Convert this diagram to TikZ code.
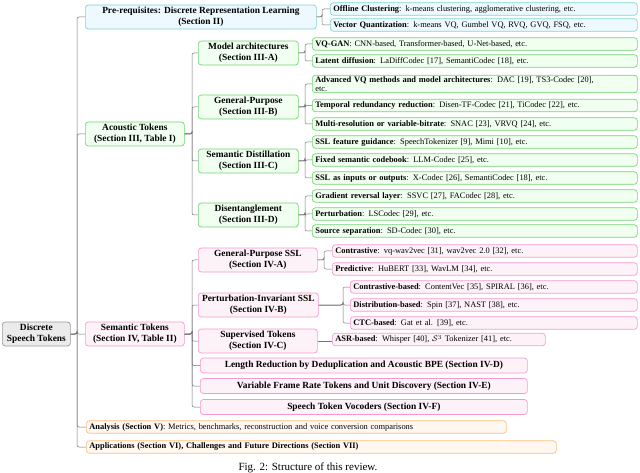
\documentclass[tikz,border=0pt]{standalone}
\usepackage{fontspec}
\setmainfont{Liberation Serif}
\begin{document}
\begin{tikzpicture}[x=1pt,y=-1pt,
  base/.style={draw, rounded corners=3pt, line width=0.7pt, inner sep=1pt, font=\fontsize{8.4}{9.6}\selectfont},
  mid/.style={base, anchor=west, align=center, font=\fontsize{9.4}{10.6}\selectfont\bfseries},
  leaf/.style={base, anchor=west, align=left, inner xsep=3pt, minimum height=12.5pt},
  cy/.style={draw=cyan!60!green!50, fill=cyan!7},
  gr/.style={draw=green!70!black!55, fill=green!6},
  pk/.style={draw=magenta!40, fill=magenta!5},
  og/.style={draw=orange!50, fill=orange!6},
  gy/.style={draw=black!40, fill=black!8},
  conn/.style={draw=black!55, line width=0.5pt, rounded corners=2pt}]
\useasboundingbox (0,0) rectangle (640,473);
% root
\node[mid,gy,minimum width=68pt,minimum height=24pt] (root) at (2,334) {Discrete\\Speech Tokens};
% level 1
\node[mid,cy,minimum width=231pt,minimum height=24pt] (pre) at (85,17) {Pre-requisites: Discrete Representation Learning\\(Section II)};
\node[mid,gr,minimum width=99pt,minimum height=24pt] (ac) at (85,134) {Acoustic Tokens\\(Section III, Table I)};
\node[mid,pk,minimum width=99pt,minimum height=24pt] (se) at (85,334) {Semantic Tokens\\(Section IV, Table II)};
\node[leaf,og,text width=414pt] (an) at (86,427) {\textbf{Analysis (Section V)}: Metrics, benchmarks, reconstruction and voice conversion comparisons};
\node[leaf,og,text width=464pt] (ap) at (86,447) {\textbf{Applications (Section VI), Challenges and Future Directions (Section VII)}};
% prereq leaves
\node[leaf,cy,text width=301pt] (off) at (330,9) {\textbf{Offline Clustering}: k-means clustering, agglomerative clustering, etc.};
\node[leaf,cy,text width=301pt] (vq) at (330,25) {\textbf{Vector Quantization}: k-means VQ, Gumbel VQ, RVQ, GVQ, FSQ, etc.};
% acoustic level 2
\node[mid,gr,minimum width=100pt,minimum height=24pt] (ma) at (198,53) {Model architectures\\(Section III-A)};
\node[mid,gr,minimum width=100pt,minimum height=24pt] (gp) at (198,107) {General-Purpose\\(Section III-B)};
\node[mid,gr,minimum width=100pt,minimum height=24pt] (sd) at (198,161) {Semantic Distillation\\(Section III-C)};
\node[mid,gr,minimum width=100pt,minimum height=24pt] (di) at (198,215) {Disentanglement\\(Section III-D)};
% acoustic leaves
\node[leaf,gr,text width=319pt] (l1) at (312,44) {\textbf{VQ-GAN}: CNN-based, Transformer-based, U-Net-based, etc.};
\node[leaf,gr,text width=319pt] (l2) at (312,61) {\textbf{Latent diffusion}: LaDiffCodec [17], SemantiCodec [18], etc.};
\node[leaf,gr,text width=319pt] (l3) at (312,84) {\textbf{Advanced VQ methods and model architectures}: DAC [19], TS3-Codec [20],\\etc.};
\node[leaf,gr,text width=319pt] (l4) at (312,105.5) {\textbf{Temporal redundancy reduction}: Disen-TF-Codec [21], TiCodec [22], etc.};
\node[leaf,gr,text width=319pt] (l5) at (312,124) {\textbf{Multi-resolution or variable-bitrate}: SNAC [23], VRVQ [24], etc.};
\node[leaf,gr,text width=319pt] (l6) at (312,142) {\textbf{SSL feature guidance}: SpeechTokenizer [9], Mimi [10], etc.};
\node[leaf,gr,text width=319pt] (l7) at (312,160) {\textbf{Fixed semantic codebook}: LLM-Codec [25], etc.};
\node[leaf,gr,text width=319pt] (l8) at (312,178) {\textbf{SSL as inputs or outputs}: X-Codec [26], SemantiCodec [18], etc.};
\node[leaf,gr,text width=319pt] (l9) at (312,196) {\textbf{Gradient reversal layer}: SSVC [27], FACodec [28], etc.};
\node[leaf,gr,text width=319pt] (l10) at (312,214) {\textbf{Perturbation}: LSCodec [29], etc.};
\node[leaf,gr,text width=319pt] (l11) at (312,231) {\textbf{Source separation}: SD-Codec [30], etc.};
% semantic level 2
\node[mid,pk,minimum width=119pt,minimum height=24pt] (s1) at (198,260) {General-Purpose SSL\\(Section IV-A)};
\node[mid,pk,minimum width=120pt,minimum height=24pt] (s2) at (198,305) {Perturbation-Invariant SSL\\(Section IV-B)};
\node[mid,pk,minimum width=119pt,minimum height=24pt] (s3) at (198,341) {Supervised Tokens\\(Section IV-C)};
\node[mid,pk,minimum width=327pt,minimum height=15pt] (s4) at (200,365.5) {Length Reduction by Deduplication and Acoustic BPE (Section IV-D)};
\node[mid,pk,minimum width=327pt,minimum height=15pt] (s5) at (200,386) {Variable Frame Rate Tokens and Unit Discovery (Section IV-E)};
\node[mid,pk,minimum width=327pt,minimum height=15pt] (s6) at (200,407) {Speech Token Vocoders (Section IV-F)};
% semantic leaves
\node[leaf,pk,text width=299pt] (t1) at (332,251) {\textbf{Contrastive}: vq-wav2vec [31], wav2vec 2.0 [32], etc.};
\node[leaf,pk,text width=299pt] (t2) at (332,269) {\textbf{Predictive}: HuBERT [33], WavLM [34], etc.};
\node[leaf,pk,text width=281pt] (t3) at (350,287) {\textbf{Contrastive-based}: ContentVec [35], SPIRAL [36], etc.};
\node[leaf,pk,text width=281pt] (t4) at (350,305) {\textbf{Distribution-based}: Spin [37], NAST [38], etc.};
\node[leaf,pk,text width=281pt] (t5) at (350,323) {\textbf{CTC-based}: Gat et al. [39], etc.};
\node[leaf,pk,text width=207pt] (t6) at (332,339.5) {\textbf{ASR-based}: Whisper [40], $\mathcal{S}^3$ Tokenizer [41], etc.};
% caption
\node[font=\fontsize{11}{12}\selectfont, anchor=base west] (cap) at (235,470.5) {Fig. 2: Structure of this review.};
% junctions
\coordinate (j0) at (77,0);
\coordinate (j1) at (322,0);
\coordinate (j2) at (192,0);
\coordinate (j3) at (305,0);
\coordinate (j4) at (192,0);
\coordinate (j5) at (324,0);
\coordinate (j6) at (343,0);
% connectors
\foreach \c in {pre,ac,se,an,ap} \draw[conn] (root.east) -| (j0 |- root.east) |- (\c.west);
\foreach \c in {off,vq} \draw[conn] (pre.east) -| (j1 |- pre.east) |- (\c.west);
\foreach \c in {ma,gp,sd,di} \draw[conn] (ac.east) -| (j2 |- ac.east) |- (\c.west);
\foreach \c in {l1,l2} \draw[conn] (ma.east) -| (j3 |- ma.east) |- (\c.west);
\foreach \c in {l3,l4,l5} \draw[conn] (gp.east) -| (j3 |- gp.east) |- (\c.west);
\foreach \c in {l6,l7,l8} \draw[conn] (sd.east) -| (j3 |- sd.east) |- (\c.west);
\foreach \c in {l9,l10,l11} \draw[conn] (di.east) -| (j3 |- di.east) |- (\c.west);
\foreach \c in {s1,s2,s3,s4,s5,s6} \draw[conn] (se.east) -| (j4 |- se.east) |- (\c.west);
\foreach \c in {t1,t2} \draw[conn] (s1.east) -| (j5 |- s1.east) |- (\c.west);
\foreach \c in {t3,t4,t5} \draw[conn] (s2.east) -| (j6 |- s2.east) |- (\c.west);
\draw[conn] (s3.east) -- (t6.west |- s3.east);
\end{tikzpicture}
\end{document}
